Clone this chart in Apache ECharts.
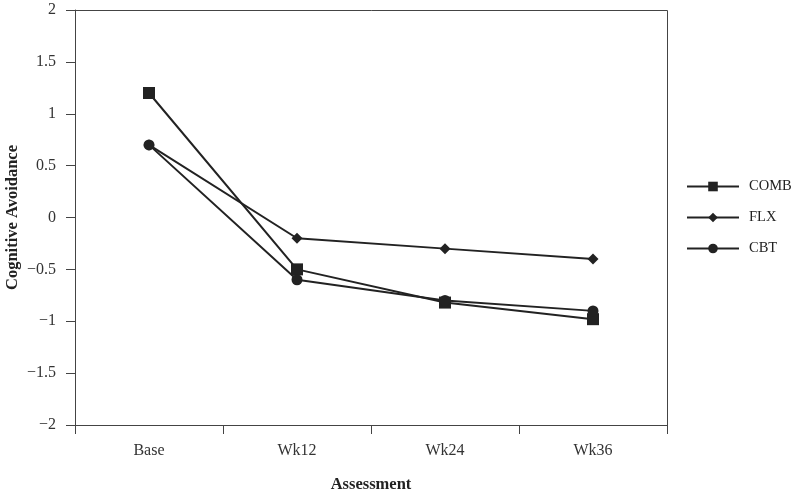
<!DOCTYPE html>
<html>
<head>
<meta charset="utf-8">
<script src="https://cdn.jsdelivr.net/npm/echarts@6/dist/echarts.min.js"></script>
<style>
  html, body { margin: 0; padding: 0; background: #fff; }
  #chart { width: 800px; height: 492px; }
</style>
</head>
<body>
<div id="chart"></div>
<script>
// data
const categories = ["Base", "Wk12", "Wk24", "Wk36"];
const comb = [1.2, -0.5, -0.82, -0.98];
const flx = [0.7, -0.2, -0.3, -0.4];
const cbt = [0.7, -0.6, -0.8, -0.9];

const font = "Liberation Serif";
const ink = "#222";

const chart = echarts.init(document.getElementById("chart"));

function lineSeries(name, data, symbol, size) {
  return {
    name: name,
    type: "line",
    data: data,
    symbol: symbol,
    symbolSize: size,
    lineStyle: { color: ink, width: 2 },
    itemStyle: { color: ink },
    animation: false
  };
}

chart.setOption({
  backgroundColor: "#fff",
  grid: { left: 75, right: 133, top: 10, bottom: 67, containLabel: false, outerBoundsMode: "none" },
  legend: {
    orient: "vertical",
    left: 681,
    top: 174,
    itemWidth: 52,
    itemHeight: 12,
    itemGap: 16,
    textStyle: { fontFamily: font, fontSize: 14.5, color: ink, padding: [0, 0, 0, 5] },
    data: ["COMB", "FLX", "CBT"]
  },
  xAxis: {
    type: "category",
    data: categories,
    boundaryGap: true,
    name: "Assessment",
    nameLocation: "middle",
    nameGap: 51,
    nameMoveOverlap: false,
    nameTextStyle: { fontFamily: font, fontSize: 16.5, fontWeight: "bold", color: ink },
    axisLine: { onZero: false, lineStyle: { color: "#444", width: 1 } },
    axisTick: { show: true, length: 9, lineStyle: { color: "#444" } },
    axisLabel: { fontFamily: font, fontSize: 16, color: "#333", margin: 18 },
    splitLine: { show: false }
  },
  yAxis: {
    type: "value",
    min: -2,
    max: 2,
    interval: 0.5,
    name: "Cognitive Avoidance",
    nameLocation: "middle",
    nameGap: 54,
    nameMoveOverlap: false,
    nameTextStyle: { fontFamily: font, fontSize: 16.5, fontWeight: "bold", color: ink },
    axisLine: { show: true, lineStyle: { color: "#444", width: 1 } },
    axisTick: { show: true, length: 9, lineStyle: { color: "#444" } },
    axisLabel: {
      fontFamily: font, fontSize: 16, color: "#333", margin: 19,
      formatter: v => (v < 0 ? "\u2212" + (-v) : String(v))
    },
    splitLine: { show: false }
  },
  series: [
    lineSeries("COMB", comb, "rect", 12),
    lineSeries("FLX", flx, "diamond", 11),
    lineSeries("CBT", cbt, "circle", 11)
  ],
  graphic: [
    // top and right border of the plot frame
    {
      type: "polyline",
      shape: { points: [[75, 10.5], [667.5, 10.5], [667.5, 425]] },
      style: { stroke: "#444", lineWidth: 1, fill: null },
      silent: true
    }
  ]
});
</script>
</body>
</html>
